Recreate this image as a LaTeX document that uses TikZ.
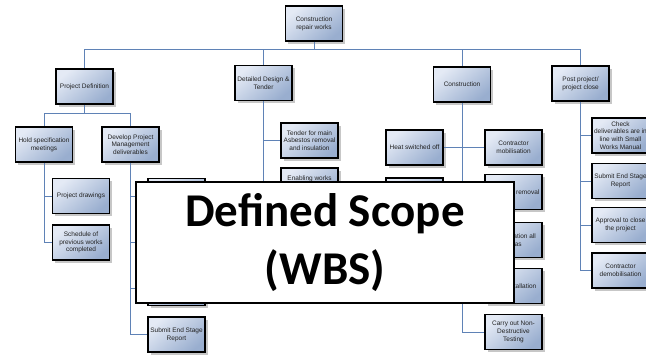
\documentclass[tikz,border=0pt]{standalone}
\usepackage{fontspec}
\setmainfont{Liberation Sans}
\newfontfamily\scopefont{Carlito}
\usetikzlibrary{shadows}
\definecolor{boxtop}{HTML}{E4EAF5}
\definecolor{boxbot}{HTML}{99AECF}
\definecolor{linkblue}{HTML}{5F82B6}
\definecolor{labelgray}{HTML}{222222}
\tikzset{
  wbsbox/.style={rectangle, draw=black, line width=1.5pt,
    minimum width=57pt, minimum height=35pt, inner sep=0pt,
    shading=axis, top color=boxtop, bottom color=boxbot, shading angle=40,
    drop shadow={shadow xshift=2.5pt, shadow yshift=-2.5pt, fill=black, opacity=0.22},
    align=center, text=labelgray,
    font=\fontsize{6.5}{7.7}\selectfont},
  link/.style={draw=linkblue, line width=0.8pt},
  scopebox/.style={rectangle, draw=black, line width=2.4pt, fill=white,
    minimum width=378pt, minimum height=121pt, inner sep=0pt, align=center,
    font=\scopefont\bfseries\fontsize{47}{58}\selectfont}
}
\begin{document}
\begin{tikzpicture}[x=1pt, y=-1pt]
\useasboundingbox (0,0) rectangle (646,354);
\clip (0,0) rectangle (646,354);
\fill[white] (0,0) rectangle (646,354);

% bus levels
\coordinate (topbus) at (0,49);
\coordinate (defbus) at (0,113);

% top of the breakdown
\node[wbsbox] (root) at (314,23.5) {Construction\\repair works};

% first level
\node[wbsbox] (pd)  at (84.5,86.5)  {Project Definition};
\node[wbsbox] (dd)  at (263.5,83)   {Detailed Design \&\\Tender};
\node[wbsbox] (con) at (462,84.5)   {Construction};
\node[wbsbox] (pp)  at (580.5,83.5) {Post project/\\project close};

% project definition branch
\node[wbsbox] (hs)  at (44,144.5)    {Hold specification\\meetings};
\node[wbsbox] (dp)  at (130.5,144.5) {Develop Project\\Management\\deliverables};
\node[wbsbox] (drw) at (81,196)      {Project drawings};
\node[wbsbox] (sch) at (81,242.5)    {Schedule of\\previous works\\completed};
\node[wbsbox] (dpa) at (176.5,196)   {};
\node[wbsbox] (dpb) at (176.5,242)   {};
\node[wbsbox] (dpc) at (176.5,288)   {};
\node[wbsbox] (dpd) at (176.5,334.5) {Submit End Stage\\Report};

% design and tender branch
\node[wbsbox] (tnd) at (309.5,140.5) {Tender for main\\Asbestos removal\\and insulation};
\node[wbsbox] (enw) at (309.5,185.5) {Enabling works\\~\\~};

% construction branch
\node[wbsbox] (hso) at (414.5,147.5) {Heat switched off};
\node[wbsbox] (hsb) at (414.5,195.5) {};
\node[wbsbox] (mob) at (513.5,147.5) {Contractor\\mobilisation};
\node[wbsbox] (rem) at (513.5,192)   {Asbestos removal};
\node[wbsbox] (rmd) at (513.5,240)   {Remediation all\\areas};
\node[wbsbox] (ins) at (513.5,286)   {New installation};
\node[wbsbox] (ndt) at (513.5,332)   {Carry out Non-\\Destructive\\Testing};

% close-out branch
\node[wbsbox] (chk) at (620.5,135.5) {Check\\deliverables are in\\line with Small\\Works Manual};
\node[wbsbox] (ses) at (620.5,181)   {Submit End Stage\\Report};
\node[wbsbox] (apr) at (620.5,225)   {Approval to close\\the project};
\node[wbsbox] (dem) at (620.5,270.5) {Contractor\\demobilisation};

% connectors
\path[link] (root.south) -- (root.south |- topbus) -| (pd.north);
\path[link] (root.south |- topbus) -| (pp.north);
\path[link] (root.south |- topbus) -| (dd.north);
\path[link] (root.south |- topbus) -| (con.north);

\path[link] (pd.south) -- (pd.south |- defbus) -| (hs.north);
\path[link] (pd.south |- defbus) -| (dp.north);
\path[link] (hs.south) |- (drw.west);
\path[link] (hs.south) |- (sch.west);
\path[link] (dp.south) |- (dpa.west);
\path[link] (dp.south) |- (dpb.west);
\path[link] (dp.south) |- (dpc.west);
\path[link] (dp.south) |- (dpd.west);

\path[link] (dd.south) |- (tnd.west);
\path[link] (dd.south) |- (enw.west);

\path[link] (con.south) |- (ndt.west);
\path[link] (hso.east) -- (mob.west);
\path[link] (hsb.east) -- (rem.west);
\path[link] (con.south) |- (rmd.west);
\path[link] (con.south) |- (ins.west);

\path[link] (pp.south) |- (chk.west);
\path[link] (pp.south) |- (ses.west);
\path[link] (pp.south) |- (apr.west);
\path[link] (pp.south) |- (dem.west);

% caption panel laid over the breakdown
\node[scopebox] (scope) at (325,242.5) {Defined Scope\\(WBS)};
\end{tikzpicture}
\end{document}
